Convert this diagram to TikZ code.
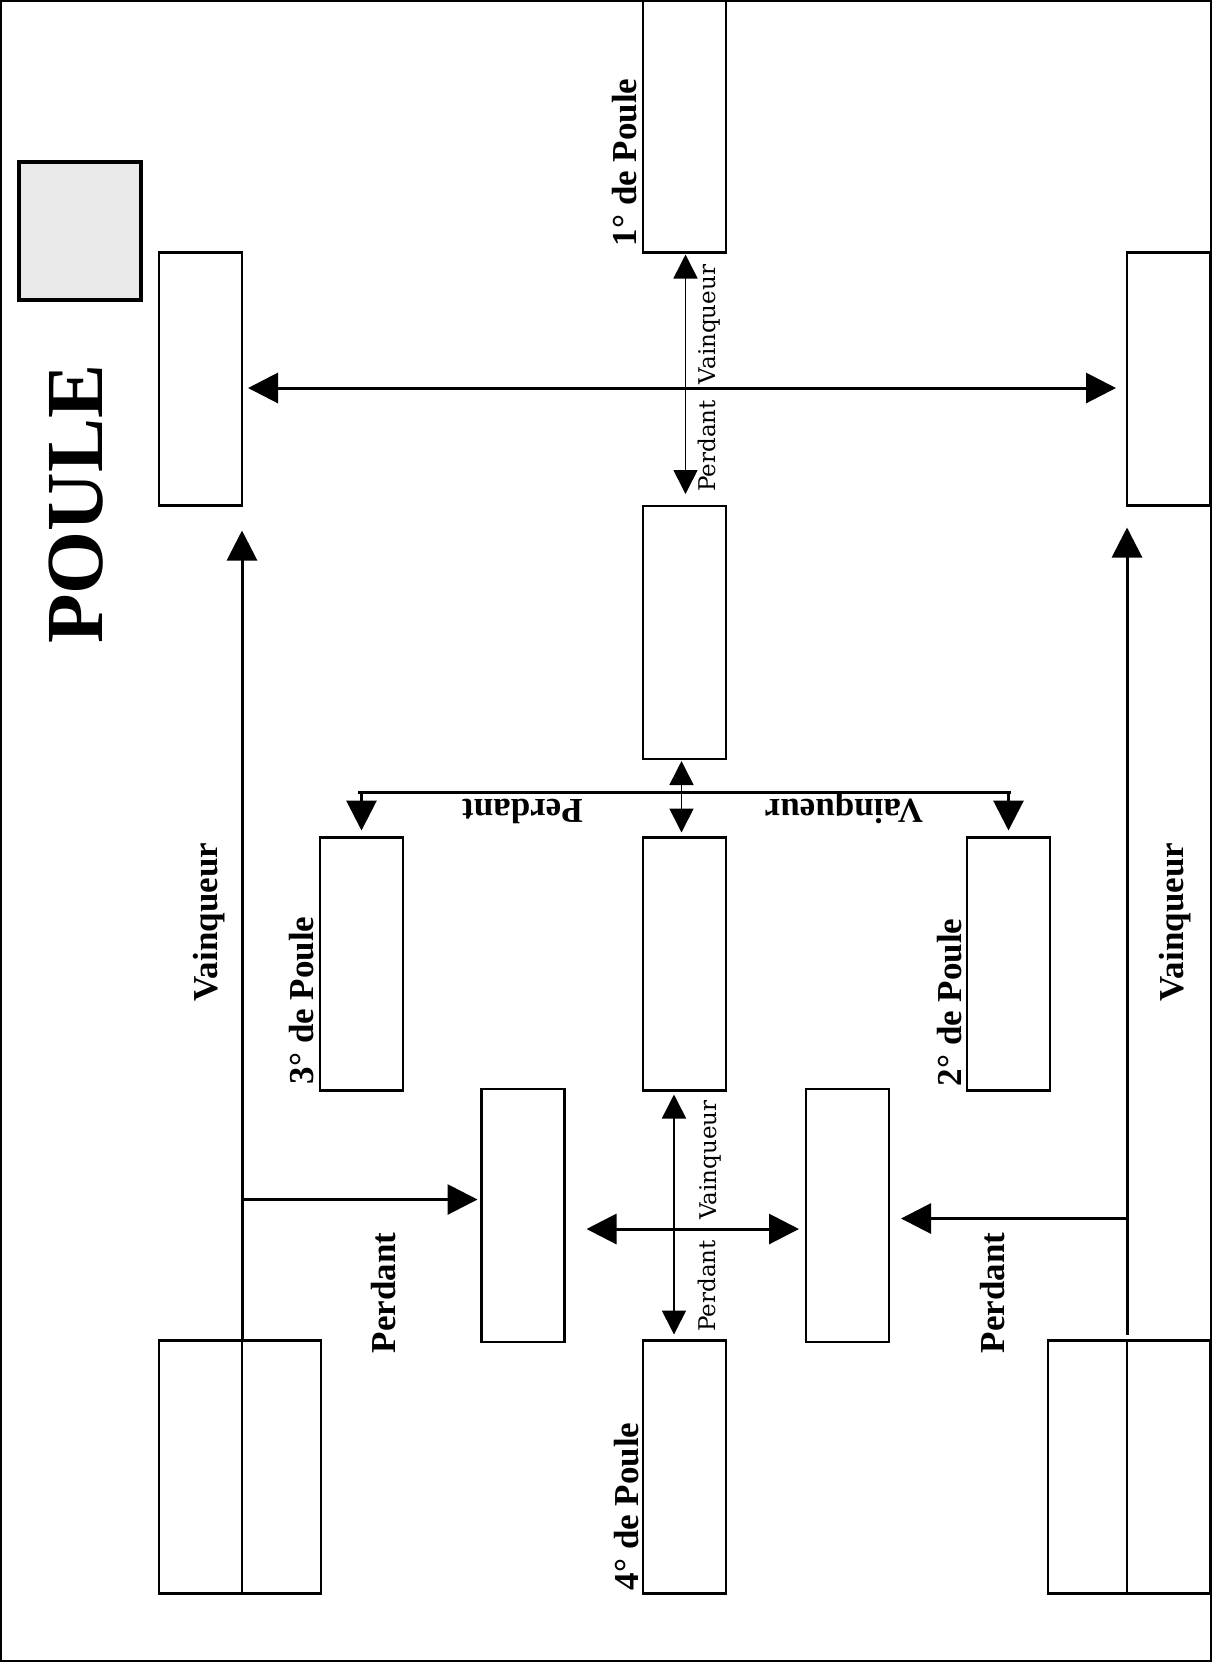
\documentclass[tikz,border=0pt]{standalone}
\usepackage{fontspec}
\setmainfont{Liberation Serif}
\newfontfamily\tagfont{DejaVu Serif}
\usetikzlibrary{arrows.meta,calc}
\definecolor{panelgrey}{RGB}{234,234,234}

\begin{document}
\begin{tikzpicture}[x=0.5pt,y=-0.5pt,
  box/.style={draw, line width=1.2pt, minimum width=41.5pt, minimum height=126.5pt, inner sep=0pt, outer sep=0pt},
  widebox/.style={box, minimum width=81pt},
  heavy/.style={line width=1.5pt},
  fine/.style={line width=0.8pt},
  bigtip/.style={-{Triangle[length=15pt,width=15pt]}},
  bigdbl/.style={{Triangle[length=15pt,width=15pt]}-{Triangle[length=15pt,width=15pt]}},
  thindbl/.style={{Triangle[length=12pt,width=12pt]}-{Triangle[length=12pt,width=12pt]}},
  rank/.style={rotate=90, anchor=base west, inner sep=0pt, font=\fontsize{17.5}{21}\selectfont\bfseries},
  btag/.style={rotate=90, anchor=base, inner sep=0pt, font=\fontsize{17.5}{21}\selectfont\bfseries},
  btagdown/.style={rotate=180, anchor=base, inner sep=0pt, font=\fontsize{17.5}{21}\selectfont\bfseries},
  stag/.style={rotate=90, anchor=base, inner sep=0pt, font=\tagfont\fontsize{11.5}{14}\selectfont},
]
\useasboundingbox (0,0) rectangle (1212,1662);

% outer frame
\draw[line width=1pt] (1,1) rectangle (1211,1661);

% grey panel and title
\node[draw, line width=2pt, fill=panelgrey, minimum width=61pt, minimum height=69pt, inner sep=0pt] (panel) at (80,231) {};
\node[rotate=90, anchor=base, inner sep=0pt, font=\fontsize{40.5}{48}\selectfont\bfseries] (title) at (102,504) {POULE};

% match boxes
\node[box] (A)  at (200.5,379) {};
\node[box] (B)  at (1168.5,379) {};
\node[box] (P1) at (684.5,126) {};
\node[box] (M1) at (684.5,632.5) {};
\node[box] (P3) at (361.5,964) {};
\node[box] (M2) at (684.5,964) {};
\node[box] (P2) at (1008.5,964) {};
\node[box] (L4) at (523,1215.5) {};
\node[box] (R4) at (847.5,1215.5) {};
\node[box] (P4) at (684.5,1467) {};
\node[widebox] (BL) at (240,1467) {};
\node[widebox] (BR) at (1129,1467) {};

% split lines of the two wide boxes
\coordinate (lv) at (A.south east |- BL.north);
\coordinate (rv) at (B.south west |- BR.north);
\draw[line width=0.6pt] (lv) -- (lv |- BL.south);
\draw[line width=0.6pt] (rv) -- (rv |- BR.south);

% rank labels
\node[rank] (t1) at ($(P1.south west)+(-7,-6)$) {1° de Poule};
\node[rank] (t3) at ($(P3.south west)+(-7,-6)$) {3° de Poule};
\node[rank] (t2) at ($(P2.south west)+(-6,-4)$) {2° de Poule};
\node[rank] (t4) at ($(P4.south west)+(-5,-3)$) {4° de Poule};

% side labels
\node[btag] (vl) at (217,922) {Vainqueur};
\node[btag] (vr) at (1183,922) {Vainqueur};
\node[btag] (pl) at (395,1293) {Perdant};
\node[btag] (pr) at (1004,1293) {Perdant};
\node[btagdown] (pd) at (522.5,799) {Perdant};
\node[btagdown] (vd) at (844,799) {Vainqueur};

% top cross
\draw[heavy, bigdbl, shorten <=3pt, shorten >=5.5pt] ($(A.east)+(0,9)$) -- ($(B.west)+(0,9)$);
\draw[fine, thindbl, shorten <=1pt, shorten >=6pt] ($(P1.south)+(1,0)$) -- ($(M1.north)+(1,0)$);
\node[stag] (sv1) at (715,324.5) {Vainqueur};
\node[stag] (sp1) at (715,446) {Perdant};

% distribution bar
\coordinate (barL) at ($(P3.north)+(0,-45)$);
\coordinate (barR) at ($(P2.north)+(0,-45)$);
\draw[heavy] ($(barL)+(-4,0)$) -- ($(barR)+(2,0)$);
\draw[heavy, bigtip, shorten >=3.5pt] (barL) -- (P3.north);
\draw[heavy, bigtip, shorten >=3.5pt] (barR) -- (P2.north);
\draw[fine, thindbl, shorten <=1pt, shorten >=2.5pt] ($(M1.south)+(-3,0)$) -- ($(M2.north)+(-3,0)$);

% left feed
\draw[heavy, bigtip, shorten >=12.5pt] (lv) -- (A.south east);
\coordinate (brL) at ($(lv)+(0,-141)$);
\draw[heavy, bigtip, shorten >=2pt] (brL) -- (brL -| L4.west);

% right feed
\draw[heavy, bigtip, shorten <=3pt, shorten >=11pt] (rv) -- (B.south west);
\coordinate (brR) at ($(rv)+(0,-122)$);
\draw[heavy, bigtip, shorten >=6pt] (brR) -- (brR -| R4.east);

% lower cross
\draw[heavy, bigdbl, shorten <=11pt, shorten >=3.5pt] ($(L4.east)+(0,13.5)$) -- ($(R4.west)+(0,13.5)$);
\draw[fine, thindbl, shorten <=2pt, shorten >=3pt] ($(M2.south)+(-10.5,0)$) -- ($(P4.north)+(-10.5,0)$);
\node[stag] (sv2) at (716,1160) {Vainqueur};
\node[stag] (sp2) at (715,1286) {Perdant};
\end{tikzpicture}
\end{document}
